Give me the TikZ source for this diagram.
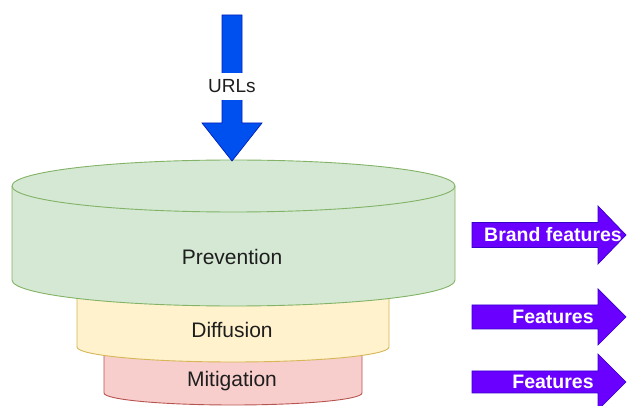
\documentclass[tikz,border=0pt]{standalone}
\usepackage{fontspec}
\setmainfont{Liberation Sans}
\begin{document}
\begin{tikzpicture}[x=1pt,y=1pt,
  greenbody/.style={fill={rgb,255:red,213;green,232;blue,212}, draw={rgb,255:red,130;green,179;blue,102}, line width=0.9pt},
  yellowbody/.style={fill={rgb,255:red,255;green,242;blue,204}, draw={rgb,255:red,214;green,182;blue,86}, line width=0.9pt},
  redbody/.style={fill={rgb,255:red,248;green,206;blue,204}, draw={rgb,255:red,184;green,84;blue,80}, line width=0.9pt},
  bluearrow/.style={fill={rgb,255:red,0;green,80;blue,239}, draw={rgb,255:red,0;green,29;blue,188}, line width=0.7pt, line join=miter},
  purplearrow/.style={fill={rgb,255:red,106;green,0;blue,255}, draw={rgb,255:red,55;green,0;blue,204}, line width=0.7pt, line join=miter},
  layertext/.style={font=\fontsize{21}{24}\selectfont, text={rgb,255:red,30;green,30;blue,30}},
  arrowtext/.style={font=\bfseries\fontsize{19.5}{22}\selectfont, text=white, inner sep=0pt},
]
\useasboundingbox (0,0) rectangle (630,-406);

% bottom layer: mitigation
\path[redbody] (104,-340) -- (104,-393)
  arc[start angle=180,end angle=360,x radius=129,y radius=12]
  -- (362,-340) -- cycle;
% middle layer: diffusion
\path[yellowbody] (77,-270) -- (77,-347)
  arc[start angle=180,end angle=360,x radius=156,y radius=15]
  -- (389,-270) -- cycle;
% top layer: prevention
\path[greenbody] (12,-186) -- (12,-280)
  arc[start angle=180,end angle=360,x radius=221.5,y radius=26]
  -- (455,-186)
  arc[start angle=0,end angle=180,x radius=221.5,y radius=26] -- cycle;
\draw[greenbody, fill=none] (12,-186)
  arc[start angle=180,end angle=360,x radius=221.5,y radius=26];

\node[layertext] (prev) at (232,-257) {Prevention};
\node[layertext] (diff) at (232,-330) {Diffusion};
\node[layertext] (miti) at (232,-381) {Mitigation};

% incoming URLs arrow
\path[bluearrow] (222,-15) -- (242,-15) -- (242,-123) -- (262,-123)
  -- (232,-161) -- (202,-123) -- (222,-123) -- cycle;
\node[fill=white, inner xsep=1pt, inner ysep=0pt, minimum height=27pt,
  font=\fontsize{19}{22}\selectfont,
  text={rgb,255:red,30;green,30;blue,30}] (urls) at (232,-86.5) {URLs};

% outgoing feature arrows
\path[purplearrow] (472,-222.5) -- (598,-222.5) -- (598,-206) -- (626,-235)
  -- (598,-264) -- (598,-247.5) -- (472,-247.5) -- cycle;
\node[arrowtext] (brand) at (553,-235) {Brand features};

\path[purplearrow] (472,-305) -- (598,-305) -- (598,-289) -- (626,-317)
  -- (598,-345) -- (598,-329) -- (472,-329) -- cycle;
\node[arrowtext] (feat1) at (553,-317) {Features};

\path[purplearrow] (472,-371) -- (598,-371) -- (598,-354) -- (626,-382)
  -- (598,-410) -- (598,-393) -- (472,-393) -- cycle;
\node[arrowtext] (feat2) at (553,-382) {Features};
\end{tikzpicture}
\end{document}
